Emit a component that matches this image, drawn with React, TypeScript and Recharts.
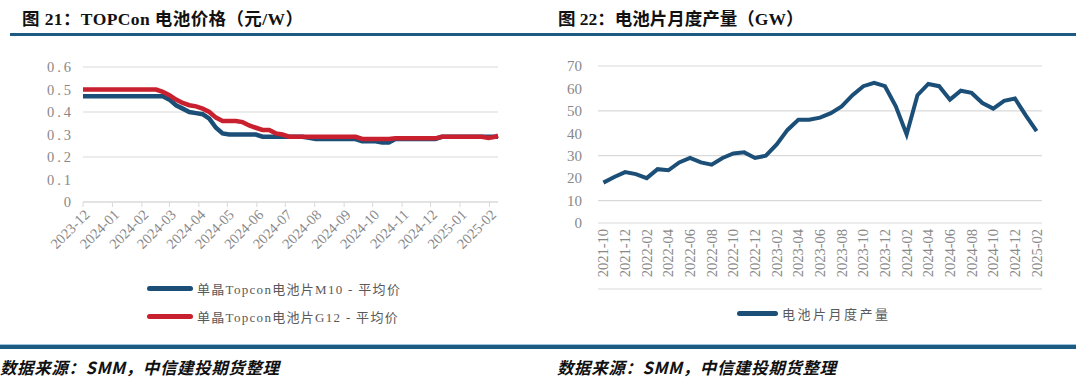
import { LineChart, Line, XAxis, YAxis, CartesianGrid } from 'recharts';

// 图21: weekly samples of SMM TOPCon cell prices (元/W)
const priceDates = [
  '2023-12-01', '2023-12-08', '2023-12-15', '2023-12-22', '2023-12-29',
  '2024-01-05', '2024-01-12', '2024-01-19', '2024-01-26', '2024-02-02',
  '2024-02-09', '2024-02-16', '2024-02-23', '2024-03-01', '2024-03-08',
  '2024-03-15', '2024-03-22', '2024-03-29', '2024-04-05', '2024-04-12',
  '2024-04-19', '2024-04-26', '2024-05-03', '2024-05-10', '2024-05-17',
  '2024-05-24', '2024-05-31', '2024-06-07', '2024-06-14', '2024-06-21',
  '2024-06-28', '2024-07-05', '2024-07-12', '2024-07-19', '2024-07-26',
  '2024-08-02', '2024-08-09', '2024-08-16', '2024-08-23', '2024-08-30',
  '2024-09-06', '2024-09-13', '2024-09-20', '2024-09-27', '2024-10-04',
  '2024-10-11', '2024-10-18', '2024-10-25', '2024-11-01', '2024-11-08',
  '2024-11-15', '2024-11-22', '2024-11-29', '2024-12-06', '2024-12-13',
  '2024-12-20', '2024-12-27', '2025-01-03', '2025-01-10', '2025-01-17',
  '2025-01-24', '2025-01-31', '2025-02-07', '2025-02-10',
];
const m10Price = [
  0.47, 0.47, 0.47, 0.47, 0.47, 0.47, 0.47, 0.47, 0.47, 0.47,
  0.47, 0.47, 0.47, 0.455, 0.43, 0.415, 0.4, 0.395, 0.39, 0.37,
  0.33, 0.305, 0.3, 0.3, 0.3, 0.3, 0.3, 0.29, 0.29, 0.29,
  0.29, 0.29, 0.29, 0.29, 0.285, 0.28, 0.28, 0.28, 0.28, 0.28,
  0.28, 0.28, 0.27, 0.27, 0.27, 0.265, 0.265, 0.28, 0.28, 0.28,
  0.28, 0.28, 0.28, 0.28, 0.29, 0.29, 0.29, 0.29, 0.29, 0.29,
  0.29, 0.29, 0.29, 0.29,
];
const g12Price = [
  0.5, 0.5, 0.5, 0.5, 0.5, 0.5, 0.5, 0.5, 0.5, 0.5,
  0.5, 0.5, 0.49, 0.475, 0.455, 0.44, 0.43, 0.425, 0.415, 0.4,
  0.375, 0.36, 0.36, 0.36, 0.355, 0.34, 0.33, 0.32, 0.32, 0.305,
  0.3, 0.29, 0.29, 0.29, 0.29, 0.29, 0.29, 0.29, 0.29, 0.29,
  0.29, 0.29, 0.28, 0.28, 0.28, 0.28, 0.28, 0.283, 0.283, 0.283,
  0.283, 0.283, 0.283, 0.283, 0.29, 0.29, 0.29, 0.29, 0.29, 0.29,
  0.29, 0.285, 0.29, 0.295,
];
const priceMonths = [
  '2023-12', '2024-01', '2024-02', '2024-03', '2024-04', '2024-05', '2024-06', '2024-07',
  '2024-08', '2024-09', '2024-10', '2024-11', '2024-12', '2025-01', '2025-02',
];
const priceTicks = [0, 0.1, 0.2, 0.3, 0.4, 0.5, 0.6];

// 图22: monthly cell output (GW)
const outputMonths = [
  '2021-10', '2021-11', '2021-12', '2022-01', '2022-02', '2022-03', '2022-04', '2022-05',
  '2022-06', '2022-07', '2022-08', '2022-09', '2022-10', '2022-11', '2022-12', '2023-01',
  '2023-02', '2023-03', '2023-04', '2023-05', '2023-06', '2023-07', '2023-08', '2023-09',
  '2023-10', '2023-11', '2023-12', '2024-01', '2024-02', '2024-03', '2024-04', '2024-05',
  '2024-06', '2024-07', '2024-08', '2024-09', '2024-10', '2024-11', '2024-12', '2025-01',
  '2025-02',
];
const cellOutput = [
  18, 20.5, 22.7, 21.8, 20, 24, 23.5, 27, 29, 27, 26, 29, 31, 31.5, 29, 30,
  35, 41.5, 46, 46, 47, 49, 52, 57, 61, 62.5, 61, 52, 39.5, 57, 62, 61,
  55, 59, 58, 53.5, 51, 54.5, 55.5, 48, 41,
];
const outputTicks = [0, 10, 20, 30, 40, 50, 60, 70];

const BLUE = '#1c4f77';
const RED = '#c8202e';
const GRID = '#d9d9d9';
const AXIS_TXT = '#888888';
const SERIF = '"Liberation Serif", "Noto Sans CJK SC", serif';

const dayOf = (s: string) => {
  const [y, m, d] = s.split('-').map(Number);
  return (Date.UTC(y, m - 1, d ?? 1) - Date.UTC(2023, 11, 1)) / 86400000;
};

const priceData = priceDates.map((d, i) => ({ day: dayOf(d), m10: m10Price[i], g12: g12Price[i] }));
const monthTicks = priceMonths.map(dayOf);
const lastDay = dayOf(priceDates[priceDates.length - 1]);
const monthLabel = (v: number) => priceMonths[monthTicks.indexOf(v)] ?? '';

const outputData = outputMonths.map((m, i) => ({ month: m, gw: cellOutput[i] }));
const boundaryTicks = outputMonths.map((_, i) => i).filter((i) => i % 2 === 0);

const DiagTick = ({ x, y, payload }: any) => (
  <text transform={`translate(${x + 4},${y + 3}) rotate(-45)`} textAnchor="end" dy="0.35em"
    fontSize={14.5} fill={AXIS_TXT} fontFamily={SERIF}>
    {monthLabel(payload.value)}
  </text>
);

const VertTick = ({ x, y, payload }: any) => (
  <text transform={`translate(${x},${y - 2}) rotate(-90)`} textAnchor="end" dy="0.35em"
    fontSize={14.5} fill={AXIS_TXT} fontFamily={SERIF}>
    {payload.value}
  </text>
);

const LegendRow = ({ color, label, top, left, lineW, spacing }:
  { color: string; label: string; top: number; left: number; lineW: number; spacing: number }) => (
  <div style={{ position: 'absolute', top, left, display: 'flex', alignItems: 'center', height: 20 }}>
    <div style={{ width: lineW, height: 5, background: color, borderRadius: 3, marginRight: 4 }} />
    <span style={{ fontFamily: SERIF, fontSize: 13, letterSpacing: spacing, color: '#595959', whiteSpace: 'nowrap' }}>
      {label}
    </span>
  </div>
);

const titleStyle = {
  position: 'absolute' as const, top: 5, fontFamily: '"Liberation Serif", "Noto Sans CJK SC", serif',
  fontWeight: 700, fontSize: 17.5, color: '#111', whiteSpace: 'nowrap' as const,
};
const footStyle = {
  position: 'absolute' as const, top: 355, fontFamily: '"Noto Sans CJK SC", sans-serif',
  fontWeight: 700, fontStyle: 'italic' as const, fontSize: 16.5, letterSpacing: 0.6,
  color: '#111', whiteSpace: 'nowrap' as const,
};

export default function App() {
  return (
    <div style={{ position: 'absolute', left: 0, top: 0, width: 1080, height: 387, background: '#fff', overflow: 'hidden' }}>
      <div style={{ ...titleStyle, left: 22, letterSpacing: 0.4 }}>图 21：TOPCon 电池价格（元/W）</div>
      <div style={{ ...titleStyle, left: 558 }}>图 22：电池片月度产量（GW）</div>
      <div style={{ position: 'absolute', left: 10, top: 33, width: 1066, height: 3, background: '#1d5b82' }} />

      <div style={{ position: 'absolute', left: 0, top: 0 }}>
        <LineChart width={520} height={270} data={priceData} margin={{ top: 67, right: 22, bottom: 3, left: 0 }}>
          <CartesianGrid vertical={false} stroke={GRID} strokeWidth={1.2} />
          <XAxis dataKey="day" type="number" domain={[0, lastDay]} ticks={monthTicks} interval={0}
            height={65} tick={<DiagTick />} tickSize={5} stroke={GRID} />
          <YAxis domain={[0, 0.6]} ticks={priceTicks} width={83} axisLine={false} tickLine={false}
            tickMargin={3} tickFormatter={(v: number) => (v === 0 ? '0' : v.toFixed(1))}
            tick={{ fontSize: 14.5, fill: AXIS_TXT, fontFamily: SERIF, letterSpacing: 3 }} />
          <Line dataKey="m10" stroke={BLUE} strokeWidth={4.5} dot={false} isAnimationActive={false} />
          <Line dataKey="g12" stroke={RED} strokeWidth={4.5} dot={false} isAnimationActive={false} />
        </LineChart>
      </div>
      <LegendRow color={BLUE} label="单晶Topcon电池片M10 - 平均价" top={278} left={147} lineW={46} spacing={1.3} />
      <LegendRow color={RED} label="单晶Topcon电池片G12 - 平均价" top={306} left={147} lineW={46} spacing={1.3} />

      <div style={{ position: 'absolute', left: 540, top: 0 }}>
        <LineChart width={540} height={300} data={outputData} margin={{ top: 66, right: 38, bottom: 6, left: 0 }}>
          <CartesianGrid vertical={false} stroke={GRID} strokeWidth={1.2} xAxisId="marks" yAxisId="gw" />
          <XAxis xAxisId="marks" type="number" domain={[0, outputMonths.length]} ticks={boundaryTicks}
            interval={0} tick={false} height={5} tickSize={5} stroke={GRID} allowDataOverflow />
          <XAxis xAxisId="cat" dataKey="month" scale="band" interval={1} axisLine={false} tickLine={false}
            height={66} tick={<VertTick />} />
          <YAxis yAxisId="gw" domain={[0, 70]} ticks={outputTicks} width={58} axisLine={false} tickLine={false}
            tickMargin={10} tick={{ fontSize: 15, fill: AXIS_TXT, fontFamily: SERIF }} />
          <Line xAxisId="cat" yAxisId="gw" dataKey="gw" stroke={BLUE} strokeWidth={4} dot={false}
            isAnimationActive={false} />
        </LineChart>
      </div>
      <LegendRow color={BLUE} label="电池片月度产量" top={303} left={737} lineW={41} spacing={2.5} />

      <div style={{ position: 'absolute', left: 0, top: 344, width: 1076, height: 1, background: '#9cc3dd' }} />
      <div style={{ position: 'absolute', left: 0, top: 345, width: 1076, height: 4, background: '#1d5b82' }} />
      <div style={{ ...footStyle, left: 0 }}>数据来源：SMM，中信建投期货整理</div>
      <div style={{ ...footStyle, left: 557 }}>数据来源：SMM，中信建投期货整理</div>
    </div>
  );
}
